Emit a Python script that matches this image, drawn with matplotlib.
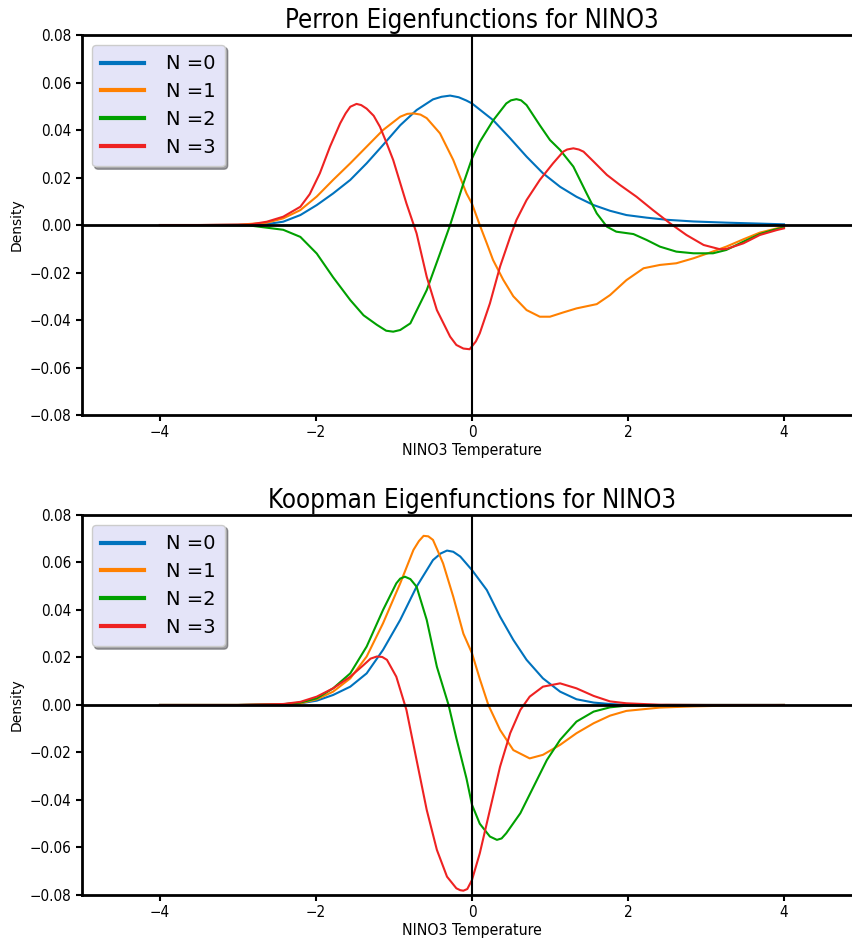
import numpy as np
import matplotlib
matplotlib.use("Agg")
import matplotlib.pyplot as plt

# Perron eigenfunctions (top panel)
p_x0 = [-4.0, -3.5, -3.0, -2.63, -2.42, -2.2, -1.99, -1.78, -1.56, -1.35, -1.14, -0.92, -0.71, -0.5,
        -0.39, -0.28, -0.17, -0.07, 0.0, 0.27, 0.49, 0.7, 0.91, 1.13, 1.34, 1.56, 1.77, 1.98, 2.24, 2.5,
        2.84, 3.26, 3.69, 4.0]
p_y0 = [0.0, 0.0, 0.0001, 0.0004, 0.0014, 0.0042, 0.0084, 0.0133, 0.019, 0.026, 0.0337, 0.042, 0.0484,
        0.0529, 0.054, 0.0545, 0.0538, 0.0524, 0.0512, 0.0442, 0.0365, 0.0288, 0.0218, 0.0161, 0.0119,
        0.0084, 0.006, 0.0042, 0.0031, 0.0022, 0.0015, 0.001, 0.0006, 0.0003]

p_x1 = [-4.0, -3.5, -3.0, -2.63, -2.42, -2.2, -1.99, -1.78, -1.56, -1.35, -1.14, -0.92, -0.83, -0.75,
        -0.66, -0.58, -0.41, -0.24, -0.07, 0.0, 0.1, 0.19, 0.27, 0.4, 0.53, 0.7, 0.87, 1.0, 1.17, 1.34,
        1.6, 1.77, 1.98, 2.2, 2.41, 2.62, 2.84, 3.05, 3.26, 3.48, 3.69, 3.91, 4.0]
p_y1 = [0.0, 0.0, 0.0001, 0.001, 0.0028, 0.0063, 0.012, 0.019, 0.026, 0.033, 0.040, 0.0456, 0.0468,
        0.047, 0.0465, 0.045, 0.0386, 0.0274, 0.0133, 0.009, 0.0, -0.0077, -0.0147, -0.023, -0.030,
        -0.0358, -0.0386, -0.0386, -0.0368, -0.0351, -0.0333, -0.0295, -0.0232, -0.0182, -0.0168,
        -0.0161, -0.014, -0.0116, -0.0091, -0.006, -0.0032, -0.0014, -0.0007]

p_x2 = [-4.0, -3.5, -2.85, -2.42, -2.2, -1.99, -1.78, -1.56, -1.39, -1.22, -1.1, -1.01, -0.92, -0.79,
        -0.58, -0.41, -0.28, -0.11, 0.0, 0.1, 0.27, 0.44, 0.5, 0.57, 0.63, 0.7, 0.87, 1.0, 1.13, 1.3,
        1.47, 1.6, 1.73, 1.85, 2.07, 2.24, 2.41, 2.62, 2.84, 3.09, 3.26, 3.48, 3.69, 3.86, 4.0]
p_y2 = [0.0, 0.0, -0.0002, -0.002, -0.005, -0.012, -0.022, -0.0316, -0.038, -0.042, -0.0445, -0.0449,
        -0.0442, -0.0414, -0.0274, -0.012, 0.0, 0.0175, 0.028, 0.035, 0.044, 0.0512, 0.0525, 0.053,
        0.0525, 0.0505, 0.042, 0.0358, 0.0316, 0.0246, 0.0133, 0.0049, -0.0007, -0.0028, -0.0038,
        -0.0063, -0.0091, -0.0112, -0.0119, -0.0119, -0.0105, -0.007, -0.0038, -0.0021, -0.001]

p_x3 = [-4.0, -3.5, -2.85, -2.63, -2.42, -2.2, -2.08, -1.95, -1.82, -1.69, -1.62, -1.56, -1.48, -1.42,
        -1.35, -1.26, -1.18, -1.1, -1.01, -0.84, -0.71, -0.58, -0.45, -0.28, -0.2, -0.11, -0.03, 0.05,
        0.1, 0.23, 0.36, 0.49, 0.57, 0.7, 0.87, 1.04, 1.17, 1.22, 1.3, 1.37, 1.43, 1.56, 1.73, 1.9,
        2.11, 2.32, 2.54, 2.75, 2.97, 3.18, 3.26, 3.48, 3.69, 3.91, 4.0]
p_y3 = [0.0, 0.0, 0.0002, 0.0014, 0.0035, 0.0077, 0.013, 0.0218, 0.033, 0.0428, 0.047, 0.0498, 0.051,
        0.0505, 0.049, 0.046, 0.0414, 0.035, 0.0274, 0.0091, -0.0035, -0.0218, -0.0358, -0.047, -0.0505,
        -0.052, -0.0523, -0.049, -0.0456, -0.033, -0.0175, -0.005, 0.0021, 0.0105, 0.019, 0.026, 0.0309,
        0.0318, 0.0323, 0.0318, 0.0309, 0.0267, 0.0211, 0.0168, 0.0119, 0.0063, 0.0007, -0.0042, -0.0084,
        -0.0102, -0.0101, -0.0077, -0.0042, -0.0021, -0.0014]

# Koopman eigenfunctions (bottom panel)
k_x0 = [-4.0, -3.5, -3.0, -2.42, -2.2, -1.99, -1.78, -1.56, -1.35, -1.14, -0.92, -0.71, -0.5, -0.4,
        -0.32, -0.24, -0.15, 0.0, 0.19, 0.36, 0.53, 0.7, 0.91, 1.13, 1.34, 1.56, 1.77, 1.98, 2.5, 3.0,
        3.5, 4.0]
k_y0 = [0.0, 0.0, 0.0, 0.0003, 0.0007, 0.0018, 0.0042, 0.0077, 0.0133, 0.0232, 0.0358, 0.0498, 0.061,
        0.0638, 0.065, 0.0645, 0.0625, 0.0568, 0.0484, 0.0372, 0.0274, 0.019, 0.0112, 0.0056, 0.0024,
        0.001, 0.0004, 0.0, 0.0, 0.0, 0.0, 0.0]

k_x1 = [-4.0, -3.5, -3.0, -2.42, -2.2, -1.99, -1.78, -1.56, -1.35, -1.14, -0.92, -0.75, -0.68, -0.62,
        -0.56, -0.5, -0.44, -0.37, -0.24, -0.11, 0.0, 0.1, 0.21, 0.36, 0.53, 0.74, 0.91, 1.13, 1.34,
        1.56, 1.77, 1.98, 2.41, 2.84, 3.26, 3.7, 4.0]
k_y1 = [0.0, 0.0, 0.0, 0.0002, 0.0007, 0.0024, 0.0056, 0.0112, 0.0204, 0.0344, 0.0512, 0.0653, 0.069,
        0.0712, 0.0710, 0.0695, 0.065, 0.0596, 0.0456, 0.0300, 0.0218, 0.011, 0.0, -0.0105, -0.019,
        -0.0225, -0.021, -0.0168, -0.0119, -0.0077, -0.0045, -0.0025, -0.0011, -0.0006, -0.0003,
        -0.0001, 0.0]

k_x2 = [-4.0, -3.5, -3.0, -2.42, -2.2, -1.99, -1.78, -1.56, -1.35, -1.14, -0.97, -0.92, -0.86, -0.79,
        -0.71, -0.58, -0.45, -0.3, -0.2, -0.07, 0.0, 0.1, 0.23, 0.32, 0.38, 0.44, 0.62, 0.79, 0.96, 1.13,
        1.34, 1.56, 1.77, 1.98, 2.5, 3.0, 3.5, 4.0]
k_y2 = [0.0, 0.0, 0.0, 0.0003, 0.001, 0.0028, 0.007, 0.0133, 0.0246, 0.040, 0.0512, 0.0532, 0.054,
        0.0530, 0.0498, 0.0358, 0.0161, 0.0, -0.014, -0.031, -0.042, -0.050, -0.0554, -0.0568, -0.0562,
        -0.054, -0.0456, -0.0344, -0.0232, -0.0147, -0.007, -0.0028, -0.001, -0.0003, 0.0, 0.0, 0.0, 0.0]

k_x3 = [-4.0, -3.5, -3.0, -2.42, -2.2, -1.99, -1.78, -1.56, -1.39, -1.3, -1.22, -1.15, -1.09, -0.97,
        -0.84, -0.71, -0.58, -0.45, -0.32, -0.2, -0.15, -0.11, -0.06, 0.0, 0.1, 0.23, 0.36, 0.49, 0.62,
        0.74, 0.91, 1.13, 1.34, 1.56, 1.77, 1.98, 2.4, 3.0, 3.5, 4.0]
k_y3 = [0.0, 0.0, 0.0, 0.0004, 0.0013, 0.0035, 0.007, 0.0119, 0.0168, 0.0195, 0.0204, 0.0202, 0.019,
        0.0119, -0.0021, -0.0232, -0.0442, -0.061, -0.0723, -0.0772, -0.078, -0.0782, -0.0775, -0.0737,
        -0.0625, -0.0442, -0.026, -0.0119, -0.0021, 0.0035, 0.0077, 0.0091, 0.007, 0.0038, 0.0015,
        0.0007, 0.0001, 0.0, 0.0, 0.0]

colors = ['#0072bd', '#ff8000', '#00a000', '#ee2222']
labels = ['N =0', 'N =1', 'N =2', 'N =3']
titles = ['Perron Eigenfunctions for NINO3', 'Koopman Eigenfunctions for NINO3']
xticks = [-4, -2, 0, 2, 4]
yticks = [-0.08, -0.06, -0.04, -0.02, 0.0, 0.02, 0.04, 0.06, 0.08]

panels = [
    [(p_x0, p_y0), (p_x1, p_y1), (p_x2, p_y2), (p_x3, p_y3)],
    [(k_x0, k_y0), (k_x1, k_y1), (k_x2, k_y2), (k_x3, k_y3)],
]

cond = dict(family='DejaVu Sans', stretch='condensed')

fig = plt.figure(figsize=(8.52, 9.39), dpi=100)
positions = [[0.0962, 0.558, 0.9155, 0.4047], [0.0962, 0.0469, 0.9155, 0.4047]]

for k in range(2):
    ax = fig.add_axes(positions[k])
    for i, (xs, ys) in enumerate(panels[k]):
        ax.plot(xs, ys, color=colors[i], linewidth=1.5, label=labels[i])
    ax.axhline(0, color='black', linewidth=2)
    ax.axvline(0, color='black', linewidth=1.5)
    ax.set_xlim(-5, 5)
    ax.set_ylim(-0.08, 0.08)
    ax.set_xticks(xticks)
    ax.set_yticks(yticks)
    ax.set_xticklabels([str(t).replace('-', '\u2212') for t in xticks], fontsize=11, **cond)
    ax.set_yticklabels(['%.2f' % t if t >= 0 else '\u2212%.2f' % -t for t in yticks], fontsize=11, **cond)
    for s in ax.spines.values():
        s.set_linewidth(2)
    ax.tick_params(width=1.5, length=4)
    ax.set_title(titles[k], fontsize=18.5, pad=5, **cond)
    ax.set_xlabel('NINO3 Temperature', fontsize=11.3, labelpad=2, **cond)
    ax.set_ylabel('Density', fontsize=10)
    leg = ax.legend(loc='upper left', fontsize=14, shadow=True, facecolor='#e4e4f8',
                    handlelength=2.2, handletextpad=1.1, borderpad=0.5, labelspacing=0.45,
                    framealpha=1.0)
    for ln in leg.get_lines():
        ln.set_linewidth(3)

fig.savefig('out.png', dpi=100)
